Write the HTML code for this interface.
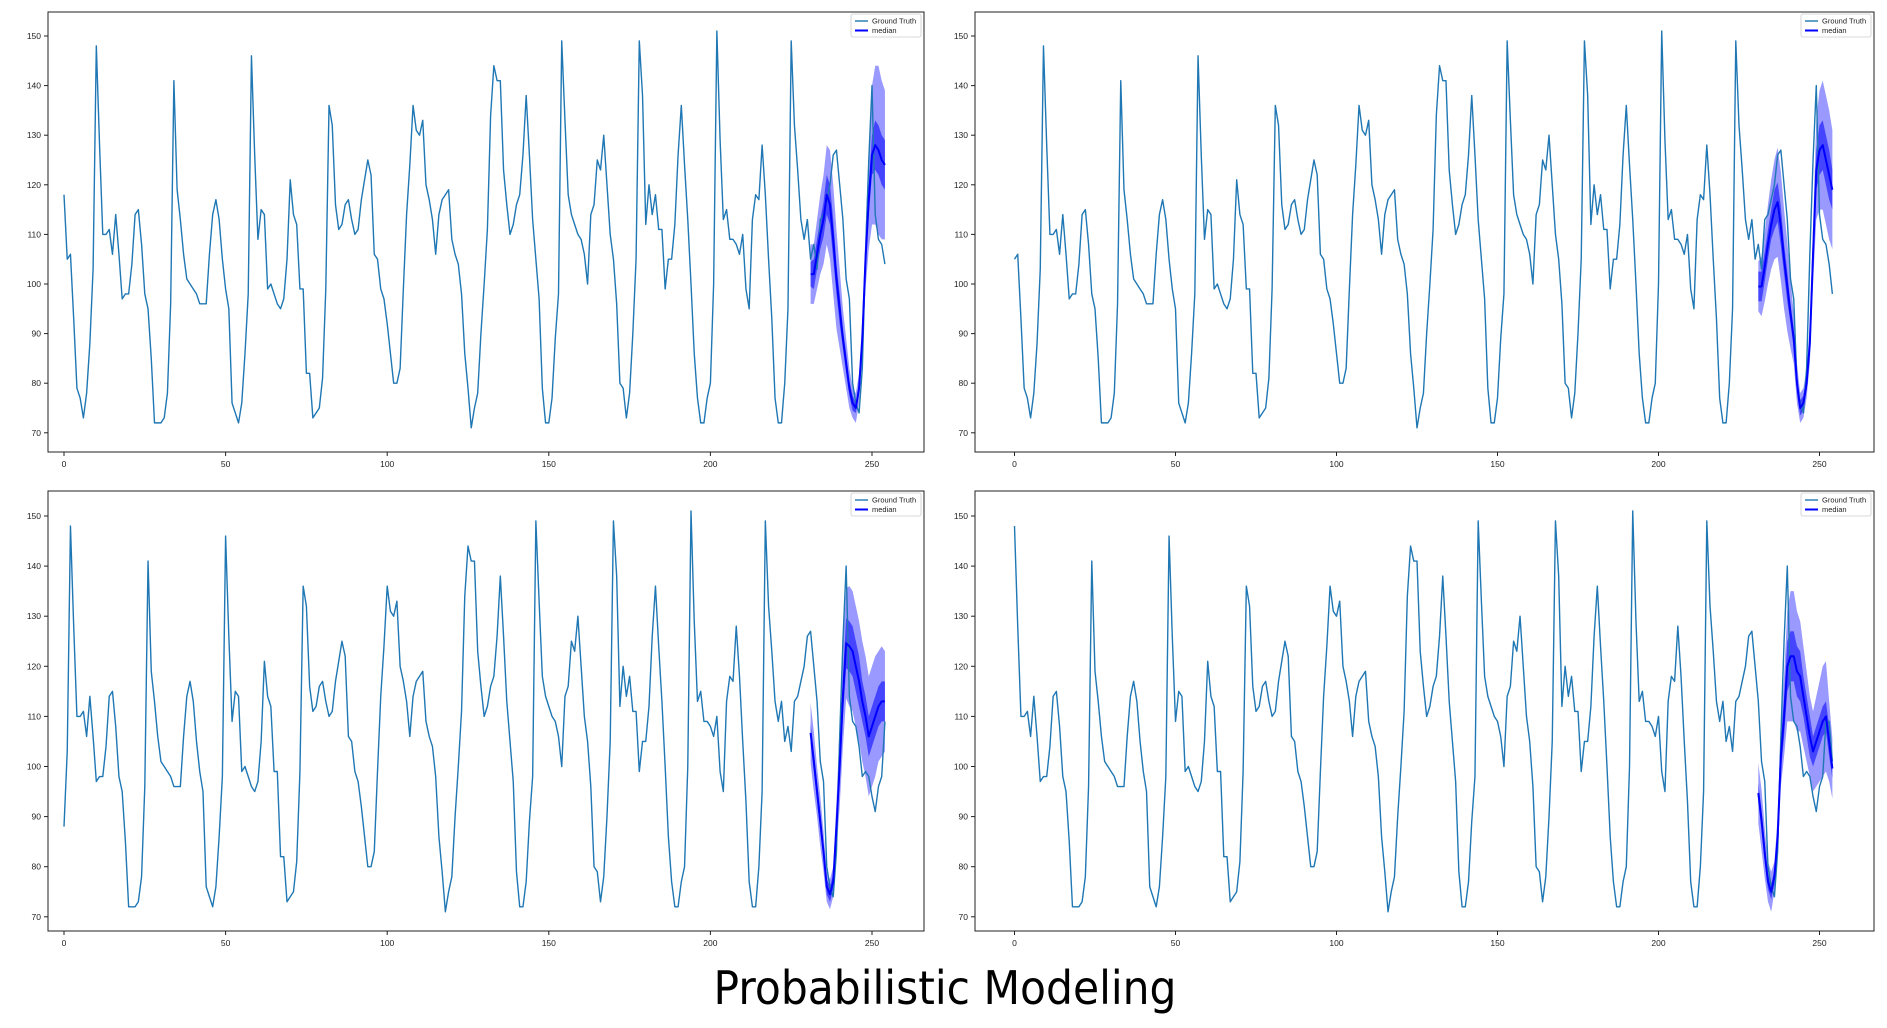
<!DOCTYPE html>
<html><head><meta charset="utf-8"><style>
html,body{margin:0;padding:0;background:#fff;}
svg{display:block;font-family:"Liberation Sans","DejaVu Sans",sans-serif;}
</style></head><body>
<svg id="fig" width="1887" height="1028" viewBox="0 0 1887 1028" xmlns="http://www.w3.org/2000/svg">
<rect width="1887" height="1028" fill="#fff"/>
<text x="945" y="1004" font-size="46" text-anchor="middle" textLength="463" lengthAdjust="spacingAndGlyphs" fill="#000" font-family="'DejaVu Sans','Liberation Sans',sans-serif">Probabilistic Modeling</text>
</svg>
<script>
// Ground truth base series (index 0..264)
const groundTruth = [118,105,106,93,79,77,73,78,88,103,148,128,110,110,111,106,114,106,97,98,98,104,114,115,108,98,95,85,72,72,72,73,78,96,141,119,113,106,101,100,99,98,96,96,96,106,114,117,113,105,99,95,76,74,72,76,86,98,146,126,109,115,114,99,100,98,96,95,97,105,121,114,112,99,99,82,82,73,74,75,81,99,136,132,116,111,112,116,117,113,110,111,117,121,125,122,106,105,99,97,92,86,80,80,83,99,114,124,136,131,130,133,120,117,113,106,114,117,118,119,109,106,104,98,86,79,71,75,78,90,100,111,134,144,141,141,123,116,110,112,116,118,126,138,126,113,105,97,79,72,72,77,89,98,149,133,118,114,112,110,109,106,100,114,116,125,123,130,120,110,105,96,80,79,73,78,90,105,149,138,112,120,114,118,111,111,99,105,105,112,126,136,124,113,100,86,77,72,72,77,80,100,151,129,113,115,109,109,108,106,110,99,95,113,118,117,128,118,105,93,77,72,72,80,95,149,132,123,113,109,113,105,108,103,113,114,117,120,126,127,120,113,101,97,80,76,74,83,106,125,140,114,109,108,104,98,99,98,94,91,96,98,109,109,101];
// Window offset of each panel into the ground truth
const panelShifts = [0, 1, 8, 10];
const forecastStart = 231;
// Forecast medians (panel index 231..254)
const medianTL = [102,102,106,110,113,118,116,109,101,95,89,84,79,76,75,79,89,105,117,126,128,127,125,124];
const medianTR = [99.5,99.5,103.5,108,112,115,116.5,111.6,105,99.5,94,89,80,75,76,80,88,106,123,127,128,125,122,119];
const medianBL = [106.7,101,95,89,83,76,74.5,77,88,100,114,124.6,124,123,120,117,113,110,106,108,110,112,113,113];
const medianBR = [94.7,89.3,82.7,77,75,78,86,102,110,120,122,122,119,118,114,110,106,103,105,107,109,110,105,99.6];
// Outer (light) band half-widths
const outerTL = [6,6,7,8,9,10,11,11,10,8,6,5,4,3,3,3,4,6,10,14,16,17,16,15];
const outerTR = [5,6,7,8,9,10,11,11,10,9,7,5,4,3,3,3,4,6,10,12,13,13,13,12];
const outerBL = [6,6,5,5,4,3,3,3,5,8,10,11,12,12,12,12,12,12,12,12,12,11,11,10];
const outerBR = [6,6,5,4,4,3,4,6,8,11,13,13,12,11,10,9,8,8,9,10,11,11,8,6];
// Inner (dark) band half-widths
const innerTL = [2.5,3,3,3,3.5,4,4,4,3,3,2,2,1.5,1.5,1,1,1.5,2,3,4,5,5,5,5];
const innerTR = [3,3,3,3,3,4,4,4,3,3,2,2,2,1.5,1.5,1.5,2,3,4,5,5,5,5,4];
const innerBL = [2,2,2,2,1.5,1.5,1.5,1.5,2,3,4,5,5,5,5,5,4,4,4,4,4,4,4,4];
const innerBR = [2,2,2,1.5,1.5,1.5,2,3,4,5,5,5,5,5,4,4,4,3,3,3,3,3,3,2];
const xTicks = [0,50,100,150,200,250];
const yTicks = [70,80,90,100,110,120,130,140,150];
const panelLength = 255;

const medians=[medianTL,medianTR,medianBL,medianBR];
const outers=[outerTL,outerTR,outerBL,outerBR];
const inners=[innerTL,innerTR,innerBL,innerBR];
const panelNames=['top-left','top-right','bottom-left','bottom-right'];
const layout=[
 {bx:48,by:12,bw:876,bh:440,x0:64,xs:3.232,y150:36,yu:4.96},
 {bx:975,by:12,bw:899,bh:440,x0:1014.5,xs:3.22,y150:36,yu:4.96},
 {bx:48,by:491,bw:876,bh:440,x0:64,xs:3.232,y150:516,yu:5.01},
 {bx:975,by:491,bw:899,bh:440,x0:1014.5,xs:3.22,y150:516,yu:5.01}
];
const NS='http://www.w3.org/2000/svg';
const fig=document.getElementById('fig');
function mk(tag,attrs,parent){const e=document.createElementNS(NS,tag);for(const k in attrs)e.setAttribute(k,attrs[k]);parent.appendChild(e);return e;}

layout.forEach((L,p)=>{
  const g=mk('g',{},fig);
  
  
  const X=i=>L.x0+L.xs*i;
  const Y=v=>L.y150+(150-v)*L.yu;
  const gt=groundTruth.slice(panelShifts[p],panelShifts[p]+panelLength);
  const med=medians[p],out=outers[p],inn=inners[p];
  // bands
  function band(w,fill,name){
    let up=[],dn=[];
    med.forEach((m,k)=>{up.push(X(forecastStart+k)+','+Y(m+w[k]));dn.unshift(X(forecastStart+k)+','+Y(m-w[k]));});
    const poly=mk('polygon',{points:up.concat(dn).join(' '),fill:fill},g);
    
    
  }
  band(out,'rgba(0,0,255,0.4)','outer-interval-band');
  band(inn,'rgba(0,0,255,0.55)','inner-interval-band');
  const gtl=mk('polyline',{points:gt.map((v,i)=>X(i)+','+Y(v)).join(' '),fill:'none',stroke:'#1f77b4','stroke-width':1.4,'stroke-linejoin':'round'},g);
  
  
  const ml=mk('polyline',{points:med.map((v,k)=>X(forecastStart+k)+','+Y(v)).join(' '),fill:'none',stroke:'#0000ff','stroke-width':2,'stroke-linejoin':'round'},g);
  
  
  const box=mk('rect',{x:L.bx,y:L.by,width:L.bw,height:L.bh,fill:'none',stroke:'#222','stroke-width':1},g);
  
  
  xTicks.forEach(t=>{
    mk('line',{x1:X(t),x2:X(t),y1:L.by+L.bh,y2:L.by+L.bh+4,stroke:'#222'},g);
    const tx=mk('text',{x:X(t),y:L.by+L.bh+15,'font-size':8.5,'text-anchor':'middle',fill:'#222'},g);
    tx.textContent=t;
    
    
  });
  yTicks.forEach(t=>{
    mk('line',{x1:L.bx-4,x2:L.bx,y1:Y(t),y2:Y(t),stroke:'#222'},g);
    const ty=mk('text',{x:L.bx-7,y:Y(t)+3,'font-size':8.5,'text-anchor':'end',fill:'#222'},g);
    ty.textContent=t;
    
    
  });
  const lx=L.bx+L.bw-73, ly=L.by+2;
  const lg=mk('g',{},g);
  
  
  mk('rect',{x:lx,y:ly,width:70,height:23,rx:2,fill:'#fff',stroke:'#ccc','stroke-width':0.8},lg);
  mk('line',{x1:lx+4,x2:lx+17,y1:ly+7,y2:ly+7,stroke:'#1f77b4','stroke-width':1.4},lg);
  mk('line',{x1:lx+4,x2:lx+17,y1:ly+16.5,y2:ly+16.5,stroke:'#0000ff','stroke-width':2},lg);
  const t1=mk('text',{x:lx+21,y:ly+9.5,'font-size':7.5,fill:'#222'},lg);t1.textContent='Ground Truth';
  
  
  const t2=mk('text',{x:lx+21,y:ly+19,'font-size':7.5,fill:'#222'},lg);t2.textContent='median';
  
  
});
</script>
</body></html>
